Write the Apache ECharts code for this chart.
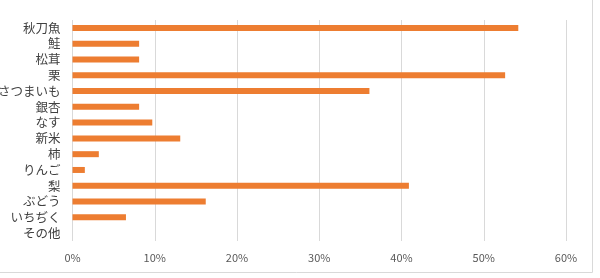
<!DOCTYPE html>
<html><head><meta charset="utf-8">
<script src="https://cdn.jsdelivr.net/npm/echarts@6/dist/echarts.min.js"></script>
<style>html,body{margin:0;padding:0;background:#fff}#c{width:600px;height:278px}</style>
</head><body><div id="c"></div>
<script>
const categories = ['秋刀魚','鮭','松茸','栗','さつまいも','銀杏','なす','新米','柿','りんご','梨','ぶどう','いちぢく','その他'];
const values = [54.2, 8.1, 8.1, 52.6, 36.1, 8.1, 9.7, 13.1, 3.2, 1.5, 40.9, 16.2, 6.5, 0];
const xTicks = [0, 10, 20, 30, 40, 50, 60];

const chart = echarts.init(document.getElementById('c'));
chart.setOption({
  animation: false,
  grid: {left: 72.5, right: 34, top: 20, bottom: 37, containLabel: false, outerBoundsMode: 'none'},
  xAxis: {
    type: 'value', min: xTicks[0], max: xTicks[xTicks.length-1], interval: 10,
    axisLine: {show: false}, axisTick: {show: false},
    splitLine: {lineStyle: {color: '#d9d9d9', width: 1}},
    axisLabel: {formatter: v => v + '%', color: '#595959', fontSize: 11, fontFamily: 'Noto Sans CJK JP', margin: 11}
  },
  yAxis: {
    type: 'category', data: categories, inverse: true,
    axisLine: {show: false}, axisTick: {show: false},
    axisLabel: {interval: 0, color: '#404040', fontSize: 12.5, fontFamily: 'Noto Sans CJK JP', margin: 12}
  },
  series: [{
    type: 'bar', data: values, barWidth: 6,
    itemStyle: {color: '#ED7D31'}
  }],
  graphic: [
    {type: 'line', shape: {x1: 592.5, y1: 0, x2: 592.5, y2: 272.5}, style: {stroke: '#d9d9d9', lineWidth: 1}},
    {type: 'line', shape: {x1: 0, y1: 272.5, x2: 592.5, y2: 272.5}, style: {stroke: '#d9d9d9', lineWidth: 1}}
  ]
});
</script></body></html>
